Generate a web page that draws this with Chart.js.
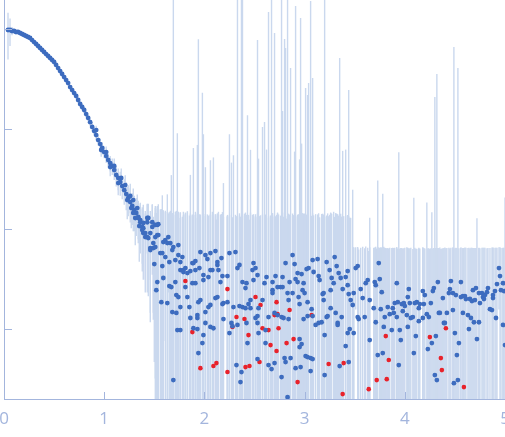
<!DOCTYPE html>
<html>
<head>
<meta charset="utf-8">
<script src="https://cdn.jsdelivr.net/npm/chart.js@4"></script>
<style>
  html, body { margin: 0; padding: 0; background: #fff; overflow: hidden; }
  #wrap { width: 505px; height: 437px; }
</style>
</head>
<body>
<div id="wrap"><canvas id="saxs" width="505" height="437"></canvas></div>
<script>
// tick positions
const xTicks = [0, 1, 2, 3, 4, 5]
const yTicks = [1, 10, 100, 1000]

// curve part (low q)
const qCurve = [.04,.06,.08,.10,.12,.14,.16,.18,.20,.22,
  .24,.26,.28,.30,.32,.34,.36,.38,.40,.42,
  .44,.46,.48,.50,.52,.54,.56,.58,.60,.62,
  .64,.66,.68,.70,.72,.74,.76,.78,.80,.82,
  .84,.86,.88,.90,.92,.94,.96,.98,1.00,1.02,
  1.04,1.06,1.08,1.10,1.12,1.14,1.16,1.18,1.20,1.22,
  1.24,1.26,1.28,1.30,1.32,1.34,1.36,
  .92,.97,1.02,1.06,1.10,1.14,1.17,1.21,1.23,1.26,1.27,1.29,1.31,1.33,1.35]
const iCurve = [977,977,955,955,933,933,912,891,871,851,
  832,813,776,741,708,676,646,617,589,562,
  537,513,490,468,437,407,380,355,331,309,
  288,263,245,229,214,195,178,166,155,141,
  129,117,105,95.5,87.1,77.6,70.8,64.6,58.9,53.7,
  49.0,45.7,42.7,38.9,34.7,32.4,29.5,26.9,24.5,22.4,
  20.4,18.6,17.0,15.5,14.5,13.2,12.3,
  97.7,61.7,58.9,41.7,42.7,28.8,32.4,27.5,19.5,21.4,16.2,19.5,12.9,16.2,10.7]
const sCurve = [480,300,90,30,20,18,16,15,14,14,
  13,13,12,12,12,11,11,11,11,11,
  11,11,11,11,11,11,10,10,10,10,
  10,10,10,10,10,10,10,10,10,10,
  10,10,10,10,10,9,9,9,8,8,
  8,8,8,8,8,8,8,7,7,7,
  7,7,6,6,6,6,6,
  10,9,8,8,8,7,8,7,7,7,6,6,6,6,6]

// noisy part (high q), blue points
const qBlue = [1.29,1.34,1.36,1.38,1.38,1.39,1.39,1.39,1.41,1.41,
  1.43,1.43,1.43,1.44,1.44,1.46,1.46,1.46,1.48,1.48,
  1.49,1.49,1.50,1.51,1.51,1.51,1.52,1.53,1.53,1.53,
  1.54,1.54,1.56,1.57,1.58,1.58,1.59,1.59,1.61,1.61,
  1.63,1.63,1.64,1.65,1.65,1.66,1.67,1.68,1.68,1.69,
  1.69,1.71,1.71,1.72,1.72,1.73,1.74,1.74,1.74,1.76,
  1.76,1.76,1.76,1.78,1.79,1.79,1.81,1.81,1.83,1.83,
  1.85,1.86,1.86,1.88,1.88,1.89,1.89,1.91,1.91,1.91,
  1.93,1.93,1.93,1.94,1.94,1.95,1.96,1.96,1.98,1.99,
  1.99,1.99,2.01,2.01,2.01,2.03,2.04,2.04,2.06,2.06,
  2.06,2.06,2.08,2.09,2.11,2.11,2.13,2.13,2.13,2.14,
  2.16,2.17,2.18,2.18,2.19,2.19,2.23,2.23,2.25,2.25,
  2.27,2.28,2.29,2.31,2.32,2.33,2.33,2.35,2.35,2.36,
  2.37,2.38,2.38,2.41,2.41,2.42,2.42,2.43,2.44,2.46,
  2.46,2.48,2.49,2.49,2.51,2.51,2.53,2.53,2.53,2.53,
  2.54,2.54,2.58,2.60,2.61,2.61,2.62,2.64,2.64,2.67,
  2.68,2.68,2.68,2.70,2.70,2.71,2.73,2.73,2.76,2.77,
  2.77,2.78,2.78,2.79,2.80,2.81,2.81,2.83,2.83,2.84,
  2.84,2.85,2.86,2.88,2.88,2.90,2.91,2.91,2.93,2.93,
  2.94,2.95,2.95,2.95,2.96,2.97,2.97,2.98,2.99,2.99,
  3.00,3.01,3.02,3.03,3.03,3.03,3.04,3.06,3.06,3.07,
  3.08,3.08,3.08,3.09,3.11,3.13,3.14,3.14,3.15,3.17,
  3.18,3.19,3.19,3.20,3.20,3.22,3.22,3.23,3.25,3.26,
  3.26,3.27,3.29,3.30,3.31,3.32,3.33,3.33,3.34,3.35,
  3.36,3.37,3.38,3.41,3.41,3.43,3.43,3.43,3.44,3.44,
  3.45,3.46,3.48,3.49,3.49,3.51,3.53,3.53,3.54,3.56,
  3.58,3.60,3.61,3.63,3.65,3.65,3.69,3.70,3.71,3.71,
  3.73,3.74,3.75,3.76,3.77,3.78,3.79,3.80,3.83,3.85,
  3.87,3.88,3.89,3.90,3.92,3.92,3.93,3.94,3.95,3.96,
  3.97,3.98,3.99,4.00,4.02,4.03,4.03,4.04,4.05,4.06,
  4.08,4.09,4.10,4.11,4.12,4.14,4.14,4.15,4.18,4.18,
  4.19,4.20,4.22,4.23,4.24,4.26,4.27,4.28,4.29,4.30,
  4.31,4.32,4.33,4.34,4.35,4.38,4.39,4.40,4.42,4.44,
  4.45,4.46,4.48,4.48,4.49,4.50,4.51,4.52,4.53,4.54,
  4.56,4.56,4.58,4.58,4.60,4.61,4.63,4.64,4.65,4.66,
  4.67,4.68,4.69,4.70,4.71,4.72,4.74,4.74,4.75,4.77,
  4.78,4.79,4.80,4.82,4.83,4.85,4.87,4.88,4.88,4.90,
  4.91,4.92,4.94,4.95,4.96,4.98,4.98,4.99,5.00]
const iBlue = [14.5,12.9,11.7,10.5,9.77,10.2,9.12,11.5,8.32,9.12,
  12.9,11.7,8.32,12.9,8.13,9.12,6.17,6.46,10.5,11.7,
  7.24,6.46,4.47,11.0,6.61,8.32,2.45,8.71,2.95,11.0,
  11.2,8.71,5.75,1.86,5.75,4.27,7.41,3.24,7.76,5.25,
  7.24,1.82,8.32,4.68,2.69,7.24,2.63,6.17,1.48,6.61,
  0.309,4.90,2.95,2.19,1.45,0.977,6.92,5.50,2.09,4.68,
  3.89,1.66,0.977,5.25,3.89,3.72,4.07,2.63,3.63,2.09,
  1.66,3.80,1.29,4.57,2.88,4.57,1.02,4.79,3.89,2.88,
  1.38,1.29,1.00,1.86,0.575,4.07,5.89,1.95,0.724,3.47,
  3.09,0.871,5.50,1.48,1.15,5.01,3.31,1.66,5.75,3.89,
  1.74,1.05,3.89,1.02,6.03,2.04,4.68,4.37,2.09,3.89,
  2.95,5.13,3.39,1.78,1.82,1.26,3.39,1.86,5.75,0.912,
  1.15,1.07,1.66,5.89,0.437,4.07,1.10,4.37,1.70,0.295,
  0.372,2.95,1.66,2.57,1.62,2.88,1.15,0.724,1.78,1.95,
  1.62,3.89,4.57,3.09,4.07,1.29,3.47,1.35,1.15,0.501,
  1.62,0.912,1.95,2.88,0.977,0.724,3.31,1.32,0.437,0.398,
  2.95,2.45,2.29,1.45,0.457,3.39,2.63,1.38,2.63,1.32,
  0.331,3.31,2.63,1.29,0.513,4.57,0.468,2.29,0.209,1.95,
  1.26,2.95,0.513,5.50,2.29,4.47,3.16,0.407,3.63,2.95,
  2.09,1.78,0.794,0.661,0.417,3.55,0.708,2.45,2.88,1.26,
  2.29,0.537,3.98,1.86,1.35,0.525,4.07,0.513,0.380,1.58,
  4.90,1.35,0.501,3.72,1.10,5.01,3.39,1.15,3.09,1.17,
  2.24,2.29,1.95,0.871,0.347,4.68,1.32,1.35,3.89,2.45,
  1.62,3.24,2.88,5.25,1.45,4.27,1.15,1.10,3.63,0.427,
  3.24,1.32,2.51,3.31,0.676,3.80,2.75,0.912,2.24,0.468,
  1.00,1.95,1.74,2.29,0.912,4.07,4.27,1.32,1.26,2.51,
  2.04,1.32,2.88,3.09,1.95,0.776,1.62,2.95,1.17,2.75,
  0.550,4.57,3.16,1.58,2.34,0.575,1.05,1.32,1.66,1.41,
  0.977,1.62,1.45,1.82,2.88,1.32,1.86,0.437,0.977,0.776,
  1.78,1.51,1.82,1.70,1.38,2.09,1.05,2.51,1.82,1.29,
  1.32,0.575,1.82,0.851,1.86,1.62,1.20,1.78,2.40,1.29,
  1.78,2.19,1.41,0.631,1.32,1.82,0.724,2.40,2.57,0.347,
  0.851,0.309,2.95,1.45,1.45,2.04,1.15,1.15,1.45,2.29,
  2.51,3.02,2.29,1.55,0.288,0.912,2.19,0.550,0.309,0.724,
  2.95,2.09,2.14,1.45,2.14,2.00,1.38,1.00,2.00,1.29,
  1.91,2.45,1.17,1.95,2.57,0.794,2.29,1.17,1.82,2.29,
  2.09,2.00,2.19,2.34,2.57,1.58,1.55,2.19,2.04,2.40,
  1.29,2.82,4.07,3.39,2.45,2.88,1.10,2.40,0.692]
const sBlue = [5,5,6,6,6,6,6,6,6,6,
  5,6,6,5,6,6,5,5,7,6,
  6,5,4,6,8,8,12,8,13,6,
  5,9,10,14,16,11,8,12,7,10,
  15,13,6,10,12,8,32,8,13,2500,
  14,10,11,13,12,90,8,9,12,10,
  9,13,12,8,11,10,10,12,11,13,
  12,31,13,9,11,60,13,9,10,12,
  68,13,12,790,13,10,8,12,230,85,
  11,13,36,12,13,9,10,12,43,10,
  12,13,11,51,8,12,9,10,12,11,
  11,9,10,13,27,12,10,12,83,13,
  45,12,53,8,13,2500,12,10,12,13,
  2500,2500,12,11,13,11,12,137,12,60,
  13,10,9,11,10,12,773,13,12,13,
  49,12,103,115,13,12,59,1480,13,2500,
  11,12,11,910,13,10,12,13,11,2500,
  13,148,12,12,794,641,13,2500,12,12,
  13,11,406,8,12,55,1700,13,10,11,
  12,48,13,12,1290,68,13,12,11,13,
  12,256,10,217,13,12,284,1900,13,12,
  319,13,12,10,13,9,11,12,10,13,
  12,11,12,2500,13,9,12,13,10,12,
  13,11,12,8,13,10,12,13,10,513,
  11,12,58,59,13,10,11,12,243,13,
  12,11,23,4.3,5.6,2.5,2.2,5.3,5.0,4.0,
  4.6,5.1,3.8,3.4,11,5.8,4.9,3.6,5.5,3.7,
  30,2.0,3.3,5.0,4.2,22,5.6,5.2,4.8,5.1,
  5.5,4.9,5.0,4.7,3.6,5.3,4.5,58,5.4,5.7,
  4.7,4.9,4.6,4.8,5.2,4.4,5.4,3.9,4.6,5.2,
  5.0,20,4.7,5.5,4.5,4.9,5.2,4.6,4.1,5.3,
  4.7,4.2,17,5.8,5.1,4.6,14,4.0,3.9,209,
  5.6,355,3.5,5.0,5.1,4.4,5.3,5.4,5.0,4.2,
  3.9,3.5,4.3,4.9,661,5.5,4.3,5.9,407,5.7,
  3.6,4.4,4.3,5.0,4.4,4.5,5.1,5.5,4.4,5.2,
  4.6,4.0,5.3,4.5,3.9,12,4.2,5.3,4.6,4.2,
  4.4,4.5,4.3,4.1,3.9,4.9,5.0,4.3,4.5,4.1,
  5.2,3.7,2.5,3.2,4.0,3.6,5.4,4.1,20]

// red points
const qRed = [1.81,1.88,1.96,2.09,2.12,2.23,2.23,2.28,2.32,2.40,
  2.41,2.44,2.45,2.51,2.55,2.56,2.58,2.64,2.66,2.70,
  2.72,2.72,2.73,2.74,2.82,2.85,2.89,2.93,3.07,3.24,
  3.38,3.39,3.64,3.72,3.81,3.82,3.84,4.25,4.36,4.37,
  4.41,4.59]
const iRed = [3.02,0.933,0.407,0.427,0.457,2.51,0.372,1.05,1.32,1.26,
  0.417,0.871,0.427,2.09,0.468,1.74,1.02,0.977,0.692,1.38,
  1.86,0.603,1.41,1.02,0.724,1.55,0.794,0.295,1.38,0.447,
  0.224,0.457,0.251,0.309,0.851,0.316,0.490,0.832,0.513,0.389,
  1.02,0.263]
const sRed = [11,13,12,13,12,11,13,12,12,13,
  12,13,12,11,13,12,13,12,13,12,
  12,13,12,13,12,12,13,12,12,13,
  12,13,5.8,6.0,5.6,6.1,5.9,5.5,5.8,6.0,
  5.4,6.2]

const axisColor = "#a3b5dd"
const errColor = "#cad8ee"

function toPoints(q, i) {
  return q.map((v, k) => ({ x: v, y: i[k] }))
}

// error bars + inward tick marks
const saxsPlugin = {
  id: "saxs",
  beforeDatasetsDraw(chart) {
    const ctx = chart.ctx
    const xs = chart.scales.x, ys = chart.scales.y
    const area = chart.chartArea
    ctx.save()
    ctx.beginPath()
    ctx.rect(area.left, area.top, area.right - area.left, area.bottom - area.top)
    ctx.clip()
    ctx.strokeStyle = errColor
    ctx.lineWidth = 1.4
    const sets = [[qCurve, iCurve, sCurve], [qBlue, iBlue, sBlue], [qRed, iRed, sRed]]
    sets.forEach(([q, i, s]) => {
      for (let k = 0; k < q.length; k++) {
        const px = xs.getPixelForValue(q[k])
        const lo = i[k] - s[k]
        const yLo = lo > 0 ? ys.getPixelForValue(lo) : area.bottom
        const yHi = ys.getPixelForValue(i[k] + s[k])
        ctx.beginPath()
        ctx.moveTo(px, Math.min(yLo, area.bottom))
        ctx.lineTo(px, Math.max(yHi, area.top))
        ctx.stroke()
      }
    })
    ctx.restore()
  },
  afterDraw(chart) {
    const ctx = chart.ctx
    const xs = chart.scales.x, ys = chart.scales.y
    const area = chart.chartArea
    ctx.save()
    ctx.strokeStyle = axisColor
    ctx.lineWidth = 1
    xTicks.forEach(v => {
      const px = Math.round(xs.getPixelForValue(v)) + 0.5
      ctx.beginPath()
      ctx.moveTo(px, area.bottom)
      ctx.lineTo(px, area.bottom - 7)
      ctx.stroke()
    })
    yTicks.forEach(v => {
      const py = Math.round(ys.getPixelForValue(v)) + 0.5
      ctx.beginPath()
      ctx.moveTo(area.left, py)
      ctx.lineTo(area.left + 8, py)
      ctx.stroke()
    })
    ctx.restore()
  }
}

new Chart("saxs", {
  type: "scatter",
  data: {
    datasets: [{
      data: toPoints(qCurve, iCurve).concat(toPoints(qBlue, iBlue)),
      backgroundColor: "#3d6cbf",
      borderColor: "#3d6cbf",
      borderWidth: 0,
      pointRadius: 2.4
    }, {
      data: toPoints(qRed, iRed),
      backgroundColor: "#e8222b",
      borderColor: "#e8222b",
      borderWidth: 0,
      pointRadius: 2.3
    }]
  },
  options: {
    responsive: false,
    animation: false,
    layout: { autoPadding: false, padding: 0 },
    plugins: { legend: { display: false }, tooltip: { enabled: false } },
    scales: {
      x: {
        type: "linear",
        min: 0,
        max: 5,
        afterBuildTicks: s => { s.ticks = xTicks.map(v => ({ value: v })) },
        afterFit: s => { s.height = 38; s.paddingLeft = 0; s.paddingRight = 0 },
        grid: { display: false, drawTicks: false },
        border: { display: true, color: axisColor, width: 1 },
        ticks: {
          color: axisColor,
          padding: 10,
          maxRotation: 0,
          font: { family: "'Open Sans', sans-serif", size: 17 }
        }
      },
      y: {
        type: "logarithmic",
        min: 0.2,
        max: 1950,
        afterFit: s => { s.width = 4; s.paddingTop = 0; s.paddingBottom = 0 },
        grid: { display: false, drawTicks: false },
        border: { display: true, color: axisColor, width: 1 },
        ticks: { display: false }
      }
    }
  },
  plugins: [saxsPlugin]
})
</script>
</body>
</html>
